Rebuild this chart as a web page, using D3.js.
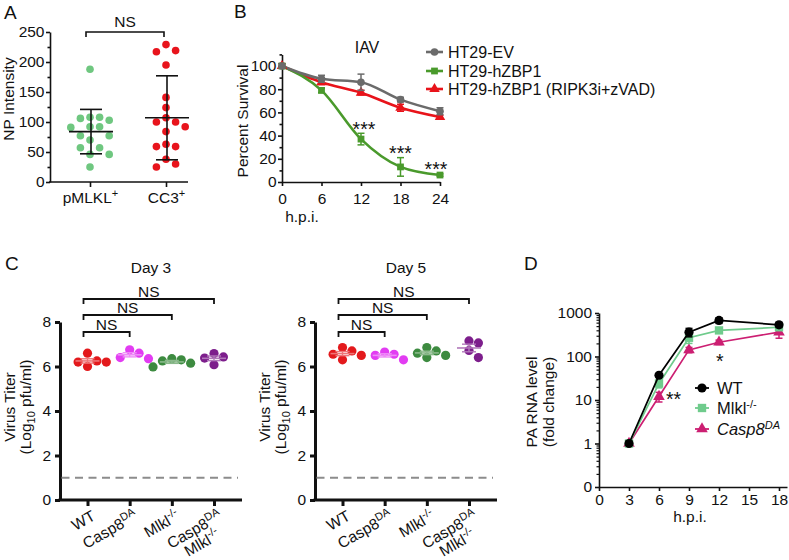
<!DOCTYPE html>
<html><head><meta charset="utf-8">
<script src="https://cdn.jsdelivr.net/npm/d3@7"></script>
<style>body{margin:0;background:#fff} svg{display:block}</style>
</head><body><svg id="c" width="789" height="560"></svg>
<script>
// ---------- DATA ----------
// Panel A
const aCategories = ["pMLKL+", "CC3+"];
const aYTicks = [0, 50, 100, 150, 200, 250];
const aPmlkl = [188,108,108,106,103,92,92,91,77,77,70,57,57,46,46,25];
const aCc3 = [229,219,217,195,141,124,107,100,100,92,84,63,59,59,38,30,25];
const aMean = [84, 107];
const aSD = [37, 70];
// Panel B
const bHours = [0, 6, 12, 18, 24];
const bYTicks = [0, 20, 40, 60, 80, 100];
const bNames = ["HT29-EV", "HT29-hZBP1", "HT29-hZBP1 (RIPK3i+zVAD)"];
const bEV = [100, 89, 86, 71, 61];
const bEVErr = [2, 3, 7, 2, 3];
const bZBP1 = [100, 79, 37, 13, 6];
const bZBP1Err = [2, 2, 5, 8, 1];
const bRIPK = [100, 86, 77, 64, 56];
const bRIPKErr = [2, 2, 2, 3, 1.5];
const bStarHours = [12, 18, 24];
// Panel C
const cCategories = ["WT", "Casp8^DA", "Mlkl^-/-", "Casp8^DA|Mlkl^-/-"];
const cYTicks = [0, 2, 4, 6, 8];
const cDay3 = [[6.6,6.0,6.2,6.2,6.25],[6.4,6.75,6.6,6.35],[6.25,6.3,6.35,5.98,6.15],[6.58,6.08,6.43,6.38]];
const cDay5 = [[6.85,6.3,6.7,6.5,6.55],[6.3,6.65,6.5,6.55],[6.5,6.7,6.85,6.4,6.6],[7.06,7.15,6.4,6.72]];
const cLimit = 1;
// Panel D
const dHours = [3, 6, 9, 12, 18];
const dXTicks = [0, 3, 6, 9, 12, 15, 18];
const dYTicks = [0.1, 1, 10, 100, 1000];
const dWT = [1, 37, 363, 675, 535];
const dWTErr = [0.05, 3, 80, 100, 70];
const dMlkl = [1, 24, 270, 398, 470];
const dMlklErr = [0.05, 5, 70, 40, 40];
const dCasp = [1, 12, 142, 213, 363];
const dCaspErr = [0.05, 3, 20, 25, 100];

// ---------- HELPERS ----------
const FONT = "'Liberation Sans', Arial, Helvetica, sans-serif";
const FS = 15.5;
const STAR = 19.5;
const INK = "#111";
const svg = d3.select("#c").attr("font-family", FONT);

function fmtAxis(g, w) {
  g.attr("font-family", FONT).attr("font-size", FS);
  g.selectAll("path,line").attr("stroke", INK).attr("stroke-width", w);
  g.selectAll("text").attr("fill", INK);
}
function rich(textSel, str, italicBase) {
  const [base, sup] = str.split("^");
  const t1 = textSel.append("tspan").text(base);
  if (italicBase) t1.attr("font-style", "italic");
  if (sup) {
    const t2 = textSel.append("tspan").text(sup).attr("dy", -6).attr("font-size", 11);
    if (italicBase) t2.attr("font-style", "italic");
  }
}
function swarm(values, yScale, cx, dist) {
  const pts = values.map(v => ({ v, y: yScale(v) })).sort((a, b) => a.y - b.y);
  const placed = [];
  const offs = [0];
  for (let i = 1; i < 20; i++) offs.push(i * dist, -i * dist);
  pts.forEach(p => {
    for (const o of offs) {
      const x = cx + o;
      if (placed.every(q => (q.x - x) ** 2 + (q.y - p.y) ** 2 >= dist * dist * 0.92)) { p.x = x; break; }
    }
    placed.push(p);
  });
  return placed;
}
function label(g, txt, x, y, opts = {}) {
  return g.append("text").attr("x", x).attr("y", y).attr("font-size", opts.fs || FS)
    .attr("text-anchor", opts.anchor || "start").attr("fill", INK).text(txt);
}
function vlabel(g, txt, bx, cy) {
  return g.append("text").attr("transform", `translate(${bx},${cy}) rotate(-90)`)
    .attr("text-anchor", "middle").attr("font-size", FS).attr("fill", INK).text(txt);
}
function errBar(g, x, y1, y2, cap, color, w) {
  g.append("line").attr("x1", x).attr("x2", x).attr("y1", y1).attr("y2", y2).attr("stroke", color).attr("stroke-width", w);
  [y1, y2].forEach(y => g.append("line").attr("x1", x - cap / 2).attr("x2", x + cap / 2).attr("y1", y).attr("y2", y).attr("stroke", color).attr("stroke-width", w));
}

// ---------- PANEL A ----------
(function () {
  const g = svg.append("g");
  const y = d3.scaleLinear().domain([0, 250]).range([182, 32]);
  const x = d3.scalePoint().domain(aCategories).range([90, 166]);
  g.append("g").attr("transform", "translate(50,0)")
    .call(d3.axisLeft(y).tickValues(aYTicks).tickSize(4).tickSizeOuter(0).tickPadding(1.5)).call(fmtAxis, 1.6);
  g.append("g").attr("transform", "translate(50,0)")
    .call(d3.axisLeft(y).tickValues(d3.range(25, 250, 50)).tickSize(2.5).tickFormat(""))
    .call(s => s.select(".domain").remove()).call(fmtAxis, 1.6);
  g.append("line").attr("x1", 49).attr("x2", 188).attr("y1", y(0)).attr("y2", y(0)).attr("stroke", INK).attr("stroke-width", 1.6);
  const ax = g.append("g").attr("transform", `translate(0,${y(0)})`)
    .call(d3.axisBottom(x).tickSize(5).tickPadding(5)).call(s => s.select(".domain").remove()).call(fmtAxis, 1.6);
  ax.selectAll(".tick text").each(function (d) {
    const t = d3.select(this).text("");
    rich(t, d.replace("+", "^+"));
  });
  const series = [aPmlkl, aCc3];
  const colors = ["#6fc780", "#e8141c"];
  series.forEach((vals, i) => {
    const cx = x(aCategories[i]);
    const pts = swarm(vals, y, cx, 9.6);
    g.append("g").selectAll("circle").data(pts).join("circle")
      .attr("cx", d => d.x).attr("cy", d => d.y).attr("r", 3.8).attr("fill", colors[i]);
    const m = aMean[i], s = aSD[i];
    g.append("line").attr("x1", cx - 21).attr("x2", cx + 23).attr("y1", y(m)).attr("y2", y(m)).attr("stroke", INK).attr("stroke-width", 1.6);
    g.append("line").attr("x1", cx + 1).attr("x2", cx + 1).attr("y1", y(m + s)).attr("y2", y(m - s)).attr("stroke", INK).attr("stroke-width", 1.6);
    [m + s, m - s].forEach(v => g.append("line").attr("x1", cx - 10).attr("x2", cx + 12).attr("y1", y(v)).attr("y2", y(v)).attr("stroke", INK).attr("stroke-width", 1.6));
  });
  const bx1 = x(aCategories[0]) - 4, bx2 = x(aCategories[1]) - 2;
  g.append("path").attr("d", `M${bx1},37V32H${bx2}V37`).attr("fill", "none").attr("stroke", INK).attr("stroke-width", 1.6);
  label(g, "NS", (bx1 + bx2) / 2, 27, { anchor: "middle" });
  vlabel(g, "NP Intensity", 14, 99);
  label(g, "A", 4, 19, { fs: 19 });
})();

// ---------- PANEL B ----------
(function () {
  const g = svg.append("g");
  const x = d3.scaleLinear().domain([0, 24]).range([282, 440]);
  const y = d3.scaleLinear().domain([0, 110]).range([182, 54.4]);
  g.append("g").attr("transform", "translate(282,0)")
    .call(d3.axisLeft(y).tickValues(bYTicks).tickSize(4).tickSizeOuter(0).tickPadding(1.5)).call(fmtAxis, 1.6);
  g.append("g").attr("transform", "translate(282,0)")
    .call(d3.axisLeft(y).tickValues(d3.range(10, 111, 20)).tickSize(2.5).tickFormat(""))
    .call(s => s.select(".domain").remove()).call(fmtAxis, 1.6);
  g.append("g").attr("transform", "translate(0,182)")
    .call(d3.axisBottom(x).tickValues(bHours).tickSize(4).tickSizeOuter(0).tickPadding(7)).call(fmtAxis, 1.6);
  const series = [
    { v: bRIPK, e: bRIPKErr, c: "#e8131a", sym: d3.symbolTriangle, size: 48, name: bNames[2] },
    { v: bZBP1, e: bZBP1Err, c: "#4a9a2c", sym: d3.symbolSquare, size: 46, name: bNames[1] },
    { v: bEV, e: bEVErr, c: "#6b6b6b", sym: d3.symbolCircle, size: 46, name: bNames[0] }
  ];
  const line = d3.line().x((d, i) => x(bHours[i])).y(d => y(d)).curve(d3.curveMonotoneX);
  series.forEach(s => {
    g.append("path").attr("d", line(s.v)).attr("fill", "none").attr("stroke", s.c).attr("stroke-width", 2.6);
  });
  series.forEach(s => {
    s.v.forEach((v, i) => errBar(g, x(bHours[i]), y(v + s.e[i]), y(v - s.e[i]), 7, s.c, 1.5));
    g.append("g").selectAll("path").data(s.v).join("path")
      .attr("transform", (d, i) => `translate(${x(bHours[i])},${y(d)})`)
      .attr("d", d3.symbol(s.sym, s.size)).attr("fill", s.c);
  });
  const starDx = [3, 0, -4];
  bStarHours.forEach((h, k) => {
    const i = bHours.indexOf(h);
    label(g, "***", x(h) + starDx[k], y(bZBP1[i] + bZBP1Err[i]) + 2.5, { anchor: "middle", fs: STAR });
  });
  const legY = [52, 71, 89];
  [series[2], series[1], series[0]].forEach((s, k) => {
    g.append("line").attr("x1", 426).attr("x2", 443).attr("y1", legY[k]).attr("y2", legY[k]).attr("stroke", s.c).attr("stroke-width", 2.6);
    g.append("path").attr("transform", `translate(434.5,${legY[k]})`).attr("d", d3.symbol(s.sym, s.size)).attr("fill", s.c);
    label(g, s.name, 448, legY[k] + 5.8, { fs: 16 });
  });
  label(g, "IAV", 367, 53, { anchor: "middle", fs: 16 });
  label(g, "h.p.i.", 302, 222, { anchor: "middle" });
  vlabel(g, "Percent Survival", 248, 121);
  label(g, "B", 234, 18, { fs: 19 });
})();

// ---------- PANEL C ----------
function panelC(x0, data, title) {
  const g = svg.append("g");
  const y = d3.scaleLinear().domain([0, 8]).range([500, 322]);
  const x = d3.scalePoint().domain(cCategories).range([x0 + 27.5, x0 + 154]);
  const colors = ["#e3191c", "#e23cf2", "#3d8b40", "#7d1e8c"];
  g.append("g").attr("transform", `translate(${x0},0)`)
    .call(d3.axisLeft(y).tickValues(cYTicks).tickSize(5).tickSizeOuter(0).tickPadding(4)).call(fmtAxis, 3);
  g.append("line").attr("x1", x0 - 1.5).attr("x2", x0 + 182).attr("y1", 500).attr("y2", 500).attr("stroke", INK).attr("stroke-width", 3);
  g.append("g").attr("transform", "translate(0,500)")
    .call(d3.axisBottom(x).tickSize(6).tickFormat("")).call(s => s.select(".domain").remove()).call(fmtAxis, 3);
  g.append("line").attr("x1", x0 + 1.5).attr("x2", x0 + 178).attr("y1", y(cLimit)).attr("y2", y(cLimit))
    .attr("stroke", "#8c8c8c").attr("stroke-width", 2.2).attr("stroke-dasharray", "8,5.5");
  data.forEach((vals, i) => {
    const cx = x(cCategories[i]);
    const pts = swarm(vals, y, cx, 9.4);
    g.append("g").selectAll("circle").data(pts).join("circle")
      .attr("cx", d => d.x).attr("cy", d => d.y).attr("r", 4.6).attr("fill", colors[i]);
    const m = d3.mean(vals), se = d3.deviation(vals) / Math.sqrt(vals.length);
    const lc = d3.interpolateRgb(colors[i], "#fff")(0.4);
    g.append("line").attr("x1", cx - 12).attr("x2", cx + 12).attr("y1", y(m)).attr("y2", y(m)).attr("stroke", lc).attr("stroke-width", 1.6);
    g.append("line").attr("x1", cx).attr("x2", cx).attr("y1", y(m + se)).attr("y2", y(m - se)).attr("stroke", lc).attr("stroke-width", 1.4);
    [m + se, m - se].forEach(v => g.append("line").attr("x1", cx - 7).attr("x2", cx + 7).attr("y1", y(v)).attr("y2", y(v)).attr("stroke", lc).attr("stroke-width", 1.4));
  });
  const lx = x(cCategories[0]) - 4;
  const levels = [332, 315, 299];
  [1, 2, 3].forEach((j, k) => {
    const rx = x(cCategories[j]);
    g.append("path").attr("d", `M${lx},${levels[k] + 5}V${levels[k]}H${rx}V${levels[k] + 5}`)
      .attr("fill", "none").attr("stroke", INK).attr("stroke-width", 1.8);
    label(g, "NS", (lx + rx) / 2, levels[k] - 2, { anchor: "middle" });
  });
  cCategories.forEach((c, i) => {
    const lines = c.split("|");
    const grp = g.append("g").attr("transform", `translate(${x(c) + 9},519) rotate(-30)`);
    const t1 = grp.append("text").attr("text-anchor", "end").attr("font-size", FS).attr("fill", INK);
    rich(t1, lines[0]);
    if (lines[1]) {
      const w1 = t1.node().getComputedTextLength();
      const t2 = grp.append("text").attr("text-anchor", "end").attr("font-size", FS).attr("fill", INK).attr("y", 15.5);
      rich(t2, lines[1]);
      const w2 = t2.node().getComputedTextLength();
      t2.attr("x", -(w1 - w2) / 2);
    }
  });
  label(g, title, x0 + 91, 273, { anchor: "middle" });
  vlabel(g, "Virus Titer", x0 - 45, 407);
  const yl = g.append("text").attr("transform", `translate(${x0 - 29},407) rotate(-90)`)
    .attr("text-anchor", "middle").attr("font-size", FS).attr("fill", INK);
  yl.append("tspan").text("(Log");
  yl.append("tspan").text("10").attr("font-size", 11).attr("dy", 4);
  yl.append("tspan").text(" pfu/ml)").attr("dy", -4);
}
panelC(60, cDay3, "Day 3");
panelC(315, cDay5, "Day 5");
label(svg, "C", 5, 270, { fs: 19 });

// ---------- PANEL D ----------
(function () {
  const g = svg.append("g");
  const x = d3.scaleLinear().domain([0, 18.8]).range([599, 787]);
  const y = d3.scaleLog().domain([0.1, 1000]).range([487, 313]);
  g.append("g").attr("transform", "translate(599,0)")
    .call(d3.axisLeft(y).tickValues(dYTicks).tickFormat(d => d < 1 ? "0" : d3.format("d")(d))
      .tickSize(4).tickSizeOuter(0).tickPadding(3)).call(fmtAxis, 1.6);
  const minor = [];
  [0.1, 1, 10, 100].forEach(b => { for (let k = 2; k <= 9; k++) minor.push(b * k); });
  g.append("g").attr("transform", "translate(599,0)")
    .call(d3.axisLeft(y).tickValues(minor).tickSize(2.5).tickFormat(""))
    .call(s => s.select(".domain").remove()).call(fmtAxis, 1.2);
  g.append("g").attr("transform", "translate(0,487)")
    .call(d3.axisBottom(x).tickValues(dXTicks).tickSize(4).tickSizeOuter(0).tickPadding(3)).call(fmtAxis, 1.6);
  const series = [
    { v: dCasp, e: dCaspErr, c: "#cc1f72", sym: d3.symbolTriangle, size: 58 },
    { v: dMlkl, e: dMlklErr, c: "#6fcb8c", sym: d3.symbolSquare, size: 70 },
    { v: dWT, e: dWTErr, c: "#000000", sym: d3.symbolCircle, size: 66 }
  ];
  const line = d3.line().x((d, i) => x(dHours[i])).y(d => y(d));
  series.forEach(s => {
    g.append("path").attr("d", line(s.v)).attr("fill", "none").attr("stroke", s.c).attr("stroke-width", 1.7);
    s.v.forEach((v, i) => errBar(g, x(dHours[i]), y(v + s.e[i]), y(Math.max(v - s.e[i], 0.11)), 7, s.c, 1.5));
    g.append("g").selectAll("path").data(s.v).join("path")
      .attr("transform", (d, i) => `translate(${x(dHours[i])},${y(d)})`)
      .attr("d", d3.symbol(s.sym, s.size)).attr("fill", s.c);
  });
  const leg = [
    { s: series[2], t: "WT", it: false, y: 388 },
    { s: series[1], t: "Mlkl^-/-", it: false, y: 408 },
    { s: series[0], t: "Casp8^DA", it: true, y: 429 }
  ];
  leg.forEach(l => {
    g.append("line").attr("x1", 695).attr("x2", 709).attr("y1", l.y).attr("y2", l.y).attr("stroke", l.s.c).attr("stroke-width", 1.8);
    g.append("path").attr("transform", `translate(702,${l.y})`).attr("d", d3.symbol(l.s.sym, l.s.size)).attr("fill", l.s.c);
    const t = g.append("text").attr("x", 717).attr("y", l.y + 6).attr("font-size", 16.5).attr("fill", INK);
    rich(t, l.t, l.it);
  });
  label(g, "**", x(6) + 7, 406, { fs: STAR });
  label(g, "*", x(12) - 3, 368, { fs: STAR });
  label(g, "h.p.i.", 690, 522, { anchor: "middle" });
  vlabel(g, "PA RNA level", 537, 402);
  vlabel(g, "(fold change)", 554, 402);
  label(g, "D", 524, 270, { fs: 19 });
})();
</script></body></html>
